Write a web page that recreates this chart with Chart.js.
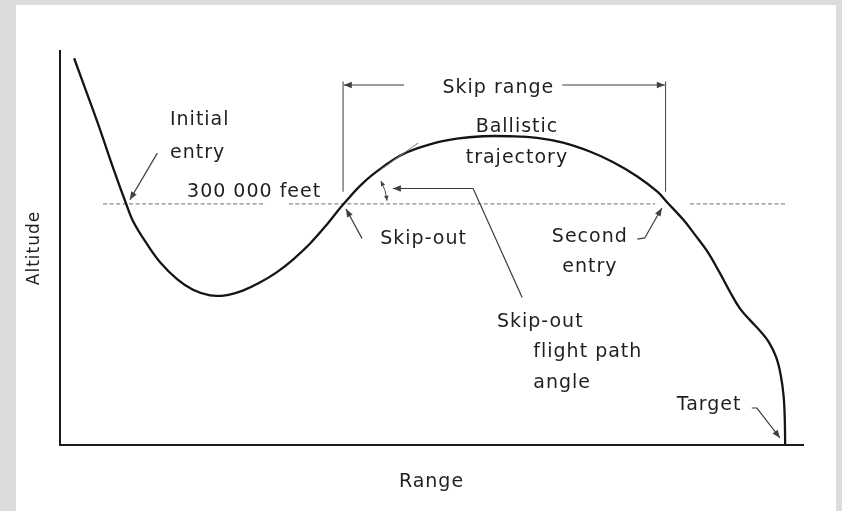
<!DOCTYPE html>
<html><head><meta charset="utf-8">
<script src="https://cdn.jsdelivr.net/npm/chart.js@4/dist/chart.umd.min.js"></script>
<style>
html,body{margin:0;padding:0;background:#dcdcdc;overflow:hidden;}
canvas{display:block;}
</style></head><body>
<canvas id="c" width="842" height="511"></canvas>
<script>
// Range (arbitrary units, 0..100) and altitude (thousand feet)
const rangeValues = [1.9, 3.8, 5.4, 7.1, 8.9, 9.8, 11.7, 13.5, 15.8, 17.9, 20.2, 22.5, 24.6, 26.9, 29.2, 31.4, 33.7, 35.9, 38.1, 40.8, 43.5, 46.2, 49.8, 53.4, 56.9, 60.6, 64.2, 67.7, 71.3, 74.4, 77.7, 80.4, 81.8, 83.9, 85.5, 87.1, 88.8, 90.2, 91.5, 92.9, 94.2, 95.4, 96.4, 97.0, 97.4, 97.55, 97.6];
const altitudeValues = [481, 433, 392, 346, 300, 279, 250, 227, 206, 193, 186, 186.5, 192, 202, 215, 231, 251, 274, 299, 326, 346, 362, 374, 381, 384, 384, 382, 376, 365, 352, 334, 315, 301, 280, 261, 241, 214, 190, 170, 155, 142, 128, 109, 87, 60, 31, 0];
const referenceAltitude = 300;          // 300 000 feet
const dashedSegments = [[5.8, 27.7], [30.8, 80.1], [84.8, 97.6]];
const xAxisTitle = 'Range';
const yAxisTitle = 'Altitude';
const skipRange = [38.1, 81.5];          // skip-out point .. second entry point

// annotation texts: [text, x, y, align]
const textLabels = [
  ['Initial', 14.8, 398, 'left'],
  ['entry', 14.8, 357, 'left'],
  ['300 000 feet', 17.1, 308, 'left'],
  ['Skip range', 59.0, 438, 'center'],
  ['Ballistic', 61.5, 389, 'center'],
  ['trajectory', 61.5, 351, 'center'],
  ['Skip-out', 43.1, 250, 'left'],
  ['Second', 66.2, 252, 'left'],
  ['entry', 67.6, 215, 'left'],
  ['Skip-out', 58.8, 147, 'left'],
  ['flight path', 63.7, 109, 'left'],
  ['angle', 63.7, 71, 'left'],
  ['Target', 83.0, 43.5, 'left']
];
// leader lines: list of [x,y] points, arrowhead at the last point (or first if head='start')
const leaders = [
  {pts: [[13.1, 363], [9.4, 305]], head: 'end'},
  {pts: [[40.65, 257], [38.5, 293.5]], head: 'end'},
  {pts: [[44.8, 319], [55.6, 319], [62.2, 183.5]], head: 'start'},
  {pts: [[77.7, 256], [78.7, 257.5], [81.0, 294.7]], head: 'end'},
  {pts: [[93.1, 46], [93.8, 46], [96.9, 8.7]], head: 'end'},
  {pts: [[46.3, 447.7], [38.2, 447.7]], head: 'end'},
  {pts: [[67.6, 447.7], [81.4, 447.7]], head: 'end'}
];
const bracketTop = 452, bracketBottom = 315;
const tangentLine = [[43.1, 342], [48.2, 375.6]];

const trajectory = rangeValues.map((x, i) => ({x: x, y: altitudeValues[i]}));
const dashedData = [];
dashedSegments.forEach((s, i) => {
  if (i) dashedData.push({x: (dashedSegments[i-1][1] + s[0]) / 2, y: null});
  dashedData.push({x: s[0], y: referenceAltitude}, {x: s[1], y: referenceAltitude});
});

const FONT = '"DejaVu Sans", "Liberation Sans", sans-serif';
const TEXT = '#1f1f1f';

function arrowHead(ctx, fx, fy, tx, ty, L, W) {
  L = L || 8; W = W || 3.2;
  const a = Math.atan2(ty - fy, tx - fx);
  ctx.beginPath();
  ctx.moveTo(tx, ty);
  ctx.lineTo(tx - L*Math.cos(a) + W*Math.sin(a), ty - L*Math.sin(a) - W*Math.cos(a));
  ctx.lineTo(tx - L*Math.cos(a) - W*Math.sin(a), ty - L*Math.sin(a) + W*Math.cos(a));
  ctx.closePath();
  ctx.fill();
}

const bgPlugin = {
  id: 'bg',
  beforeDraw(chart) {
    const ctx = chart.ctx;
    ctx.fillStyle = '#dcdcdc';
    ctx.fillRect(0, 0, chart.width, chart.height);
    ctx.fillStyle = '#ffffff';
    ctx.fillRect(16, 5, 820, chart.height - 5);
    ctx.letterSpacing = '1px';
  }
};

const annPlugin = {
  id: 'ann',
  afterDatasetsDraw(chart) {
    const ctx = chart.ctx, xs = chart.scales.x, ys = chart.scales.y;
    const X = v => xs.getPixelForValue(v), Y = v => ys.getPixelForValue(v);
    ctx.save();
    ctx.letterSpacing = '1px';
    // skip range bracket verticals
    ctx.strokeStyle = '#505050'; ctx.fillStyle = '#404040'; ctx.lineWidth = 1.1;
    skipRange.forEach(v => {
      ctx.beginPath(); ctx.moveTo(X(v), Y(bracketTop)); ctx.lineTo(X(v), Y(bracketBottom)); ctx.stroke();
    });
    // tangent line
    ctx.strokeStyle = '#7a7a7a'; ctx.lineWidth = 1;
    ctx.beginPath(); ctx.moveTo(X(tangentLine[0][0]), Y(tangentLine[0][1])); ctx.lineTo(X(tangentLine[1][0]), Y(tangentLine[1][1])); ctx.stroke();
    // angle arc
    const cx = X(skipRange[0]), cy = Y(referenceAltitude), r = 44;
    const a0 = -31*Math.PI/180, a1 = -4*Math.PI/180;
    ctx.strokeStyle = '#505050';
    ctx.beginPath(); ctx.arc(cx, cy, r, a0, a1); ctx.stroke();
    ctx.fillStyle = '#404040';
    arrowHead(ctx, cx + r*Math.cos(a0+0.12), cy + r*Math.sin(a0+0.12), cx + r*Math.cos(a0), cy + r*Math.sin(a0), 5, 2.3);
    arrowHead(ctx, cx + r*Math.cos(a1-0.12), cy + r*Math.sin(a1-0.12), cx + r*Math.cos(a1), cy + r*Math.sin(a1), 5, 2.3);
    // leaders
    ctx.strokeStyle = '#3a3a3a'; ctx.lineWidth = 1.2;
    leaders.forEach(l => {
      const p = l.pts.map(q => [X(q[0]), Y(q[1])]);
      ctx.beginPath(); ctx.moveTo(p[0][0], p[0][1]);
      for (let i = 1; i < p.length; i++) ctx.lineTo(p[i][0], p[i][1]);
      ctx.stroke();
      if (l.head === 'end') arrowHead(ctx, p[p.length-2][0], p[p.length-2][1], p[p.length-1][0], p[p.length-1][1]);
      else arrowHead(ctx, p[1][0], p[1][1], p[0][0], p[0][1]);
    });
    // texts
    ctx.fillStyle = TEXT;
    ctx.font = '19px ' + FONT;
    ctx.textBaseline = 'alphabetic';
    textLabels.forEach(t => {
      ctx.textAlign = t[3];
      ctx.fillText(t[0], X(t[1]), Y(t[2]));
    });
    ctx.restore();
  }
};

new Chart(document.getElementById('c'), {
  type: 'scatter',
  data: {
    datasets: [
      {data: trajectory, showLine: true, borderColor: '#141414', borderWidth: 2.3, pointRadius: 0, tension: 0.4, fill: false},
      {data: dashedData, showLine: true, borderColor: '#8a8a8a', borderWidth: 1.3, borderDash: [4, 2.5], pointRadius: 0, tension: 0, spanGaps: false, fill: false}
    ]
  },
  options: {
    responsive: false,
    animation: false,
    devicePixelRatio: 1,
    events: [],
    layout: {padding: {top: 51, right: 39, left: 16, bottom: 10}, autoPadding: false},
    plugins: {legend: {display: false}, tooltip: {enabled: false}},
    scales: {
      x: {
        type: 'linear', min: 0, max: 100,
        grid: {display: false, drawTicks: false},
        ticks: {display: false},
        border: {display: true, color: '#1c1c1c', width: 2},
        title: {display: true, text: xAxisTitle, color: TEXT, font: {family: FONT, size: 19}, padding: {top: 25.6, bottom: 7.6}}
      },
      y: {
        type: 'linear', min: 0, max: 490,
        grid: {display: false, drawTicks: false},
        ticks: {display: false},
        border: {display: true, color: '#1c1c1c', width: 2},
        title: {display: true, text: yAxisTitle, color: TEXT, font: {family: FONT, size: 17}, padding: {top: 8.8, bottom: 14.8}}
      }
    }
  },
  plugins: [bgPlugin, annPlugin]
});
</script>
</body></html>
